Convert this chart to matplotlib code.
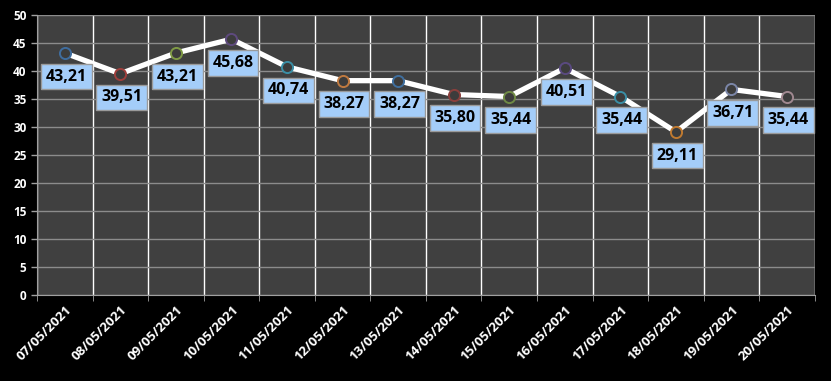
import matplotlib
matplotlib.use("Agg")
import matplotlib.pyplot as plt
import numpy as np

dates = ["07/05/2021", "08/05/2021", "09/05/2021", "10/05/2021", "11/05/2021",
         "12/05/2021", "13/05/2021", "14/05/2021", "15/05/2021", "16/05/2021",
         "17/05/2021", "18/05/2021", "19/05/2021", "20/05/2021"]
values = [43.21, 39.51, 43.21, 45.68, 40.74, 38.27, 38.27, 35.80, 35.44, 40.51,
          35.44, 29.11, 36.71, 35.44]
marker_colors = ["#3f6d9f", "#9e3f3c", "#7f9a45", "#5e4a7e", "#3a8ea5", "#c07a40",
                 "#3f6f9f", "#8a3f3c", "#6f8a45", "#5a4a80", "#3a8ea5", "#c07a30",
                 "#7b86a8", "#a08890"]
yticks = list(range(0, 51, 5))

plt.rcParams['font.family'] = ['Open Sans', 'DejaVu Sans']

fig = plt.figure(figsize=(8.31, 3.81), dpi=100, facecolor="black")
ax = fig.add_axes([0.0445, 0.2257, 0.936, 0.735])
ax.set_facecolor("#404040")

x = np.arange(len(values))
ax.plot(x, values, color="white", lw=3.8, zorder=3, solid_capstyle="round")
for xi, v, c in zip(x, values, marker_colors):
    ax.plot(xi, v, "o", ms=8, mfc="#3c3c3c", mec=c, mew=1.4, zorder=4)

for xi, v in zip(x, values):
    label = f"{v:.2f}".replace(".", ",")
    ax.annotate(label, (xi, v), xytext=(1, -17), textcoords="offset points",
                ha="center", va="center", fontsize=11.5, fontweight="bold",
                color="black", zorder=5,
                bbox=dict(boxstyle="square,pad=0.3", fc="#a4cdf9", ec="#9a9a9a", lw=1))

ax.set_xlim(-0.5, len(values) - 0.5)
ax.set_ylim(0, 50)
ax.set_yticks(yticks)
ax.set_xticks(x)
ax.set_xticklabels(dates, rotation=45, ha="right", rotation_mode="anchor",
                   fontsize=9.5, fontweight="bold", color="white")
ax.tick_params(axis="x", length=0, pad=6)
ax.tick_params(axis="y", colors="white", labelsize=8.5, length=4, width=1)
for lbl in ax.get_yticklabels():
    lbl.set_fontweight("bold")

ax.set_xticks(np.arange(-0.5, len(values), 1), minor=True)
ax.tick_params(axis="x", which="minor", length=4, color="#a0a0a0")
ax.grid(axis="y", color="#8c8c8c", lw=1)
ax.grid(axis="x", which="minor", color="white", lw=1)
ax.grid(axis="x", which="major", visible=False)
ax.set_axisbelow(True)
for s in ["top", "right"]:
    ax.spines[s].set_visible(False)
ax.spines["left"].set_color("#a0a0a0")
ax.spines["bottom"].set_color("#a0a0a0")
ax.tick_params(axis="y", color="#a0a0a0")

fig.savefig("out.png", dpi=100, facecolor="black")
